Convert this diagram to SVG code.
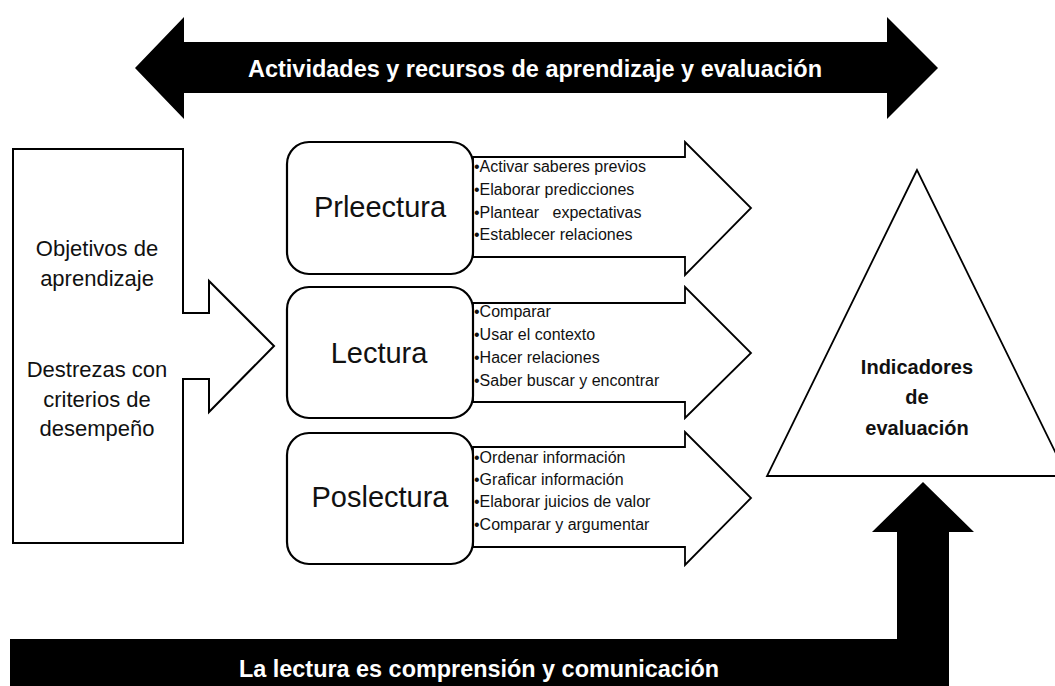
<svg xmlns="http://www.w3.org/2000/svg" width="1055" height="686" viewBox="0 0 1055 686">
<style>
.bg{fill:#fff}
.shape{fill:#fff;stroke:#000;stroke-width:2;stroke-linejoin:miter}
.arrow{fill:#fff;stroke:#000;stroke-width:1.8;stroke-linejoin:miter}
.box{fill:#fff;stroke:#000;stroke-width:2.2}
.black{fill:#000}
.t{font-family:"Liberation Sans",Arial,sans-serif;fill:#111}
.title{font-family:"Liberation Sans",Arial,sans-serif;font-weight:bold;font-size:23px;fill:#fff}
.side{font-size:22px;text-anchor:middle}
.big{font-size:29px;text-anchor:middle}
.bul{font-size:16px}
.ind{font-size:20px;font-weight:bold;text-anchor:middle}
</style>
<rect class="bg" x="0" y="0" width="1055" height="686"/>
<g id="connectors">
  <g id="top-arrow">
    <polygon class="black" points="135,68 184,17 184,42 887,42 887,17 938,68 887,119 887,93 184,93 184,119"/>
    <text class="title" x="535" y="77" text-anchor="middle" textLength="574" lengthAdjust="spacingAndGlyphs">Actividades y recursos de aprendizaje y evaluación</text>
  </g>
  <g id="bottom-arrow">
    <polygon class="black" points="10,639 897,639 897,532 872,532 923,482 974,532 949,532 949,686 10,686"/>
    <text class="title" x="479" y="677" text-anchor="middle" textLength="480" lengthAdjust="spacingAndGlyphs">La lectura es comprensión y comunicación</text>
  </g>
</g>
<g id="objetivos">
  <path class="shape" d="M13,149 H183 V313 H209 V281 L274,346 L209,412 V379 H183 V543 H13 Z"/>
  <text class="t side" x="97" y="256">Objetivos de</text>
  <text class="t side" x="97" y="286">aprendizaje</text>
  <text class="t side" x="97" y="377">Destrezas con</text>
  <text class="t side" x="97" y="407">criterios de</text>
  <text class="t side" x="97" y="436">desempeño</text>
</g>
<g id="prelectura">
  <path class="arrow" d="M473,157 H685 V142 L751,208 L685,275 V257 H473 Z"/>
  <rect class="box" x="287" y="142" width="186" height="132" rx="22"/>
  <text class="t big" x="380" y="217">Prleectura</text>
  <text class="t bul" x="474" y="172">•Activar saberes previos</text>
  <text class="t bul" x="474" y="195">•Elaborar predicciones</text>
  <text class="t bul" x="474" y="218" xml:space="preserve">•Plantear   expectativas</text>
  <text class="t bul" x="474" y="240">•Establecer relaciones</text>
</g>
<g id="lectura">
  <path class="arrow" d="M473,303 H685 V287 L751,353 L685,418 V402 H473 Z"/>
  <rect class="box" x="287" y="287" width="186" height="131" rx="22"/>
  <text class="t big" x="379" y="363">Lectura</text>
  <text class="t bul" x="474" y="317">•Comparar</text>
  <text class="t bul" x="474" y="340">•Usar el contexto</text>
  <text class="t bul" x="474" y="363">•Hacer relaciones</text>
  <text class="t bul" x="474" y="386">•Saber buscar y encontrar</text>
</g>
<g id="poslectura">
  <path class="arrow" d="M473,447 H685 V432 L751,498 L685,565 V547 H473 Z"/>
  <rect class="box" x="287" y="433" width="186" height="131" rx="22"/>
  <text class="t big" x="380" y="507">Poslectura</text>
  <text class="t bul" x="474" y="463">•Ordenar información</text>
  <text class="t bul" x="474" y="485">•Graficar información</text>
  <text class="t bul" x="474" y="507">•Elaborar juicios de valor</text>
  <text class="t bul" x="474" y="530">•Comparar y argumentar</text>
</g>
<g id="indicadores">
  <polygon class="arrow" points="917,170 767,476 1067,476"/>
  <text class="t ind" x="917" y="374">Indicadores</text>
  <text class="t ind" x="917" y="404">de</text>
  <text class="t ind" x="917" y="435">evaluación</text>
</g>
</svg>
